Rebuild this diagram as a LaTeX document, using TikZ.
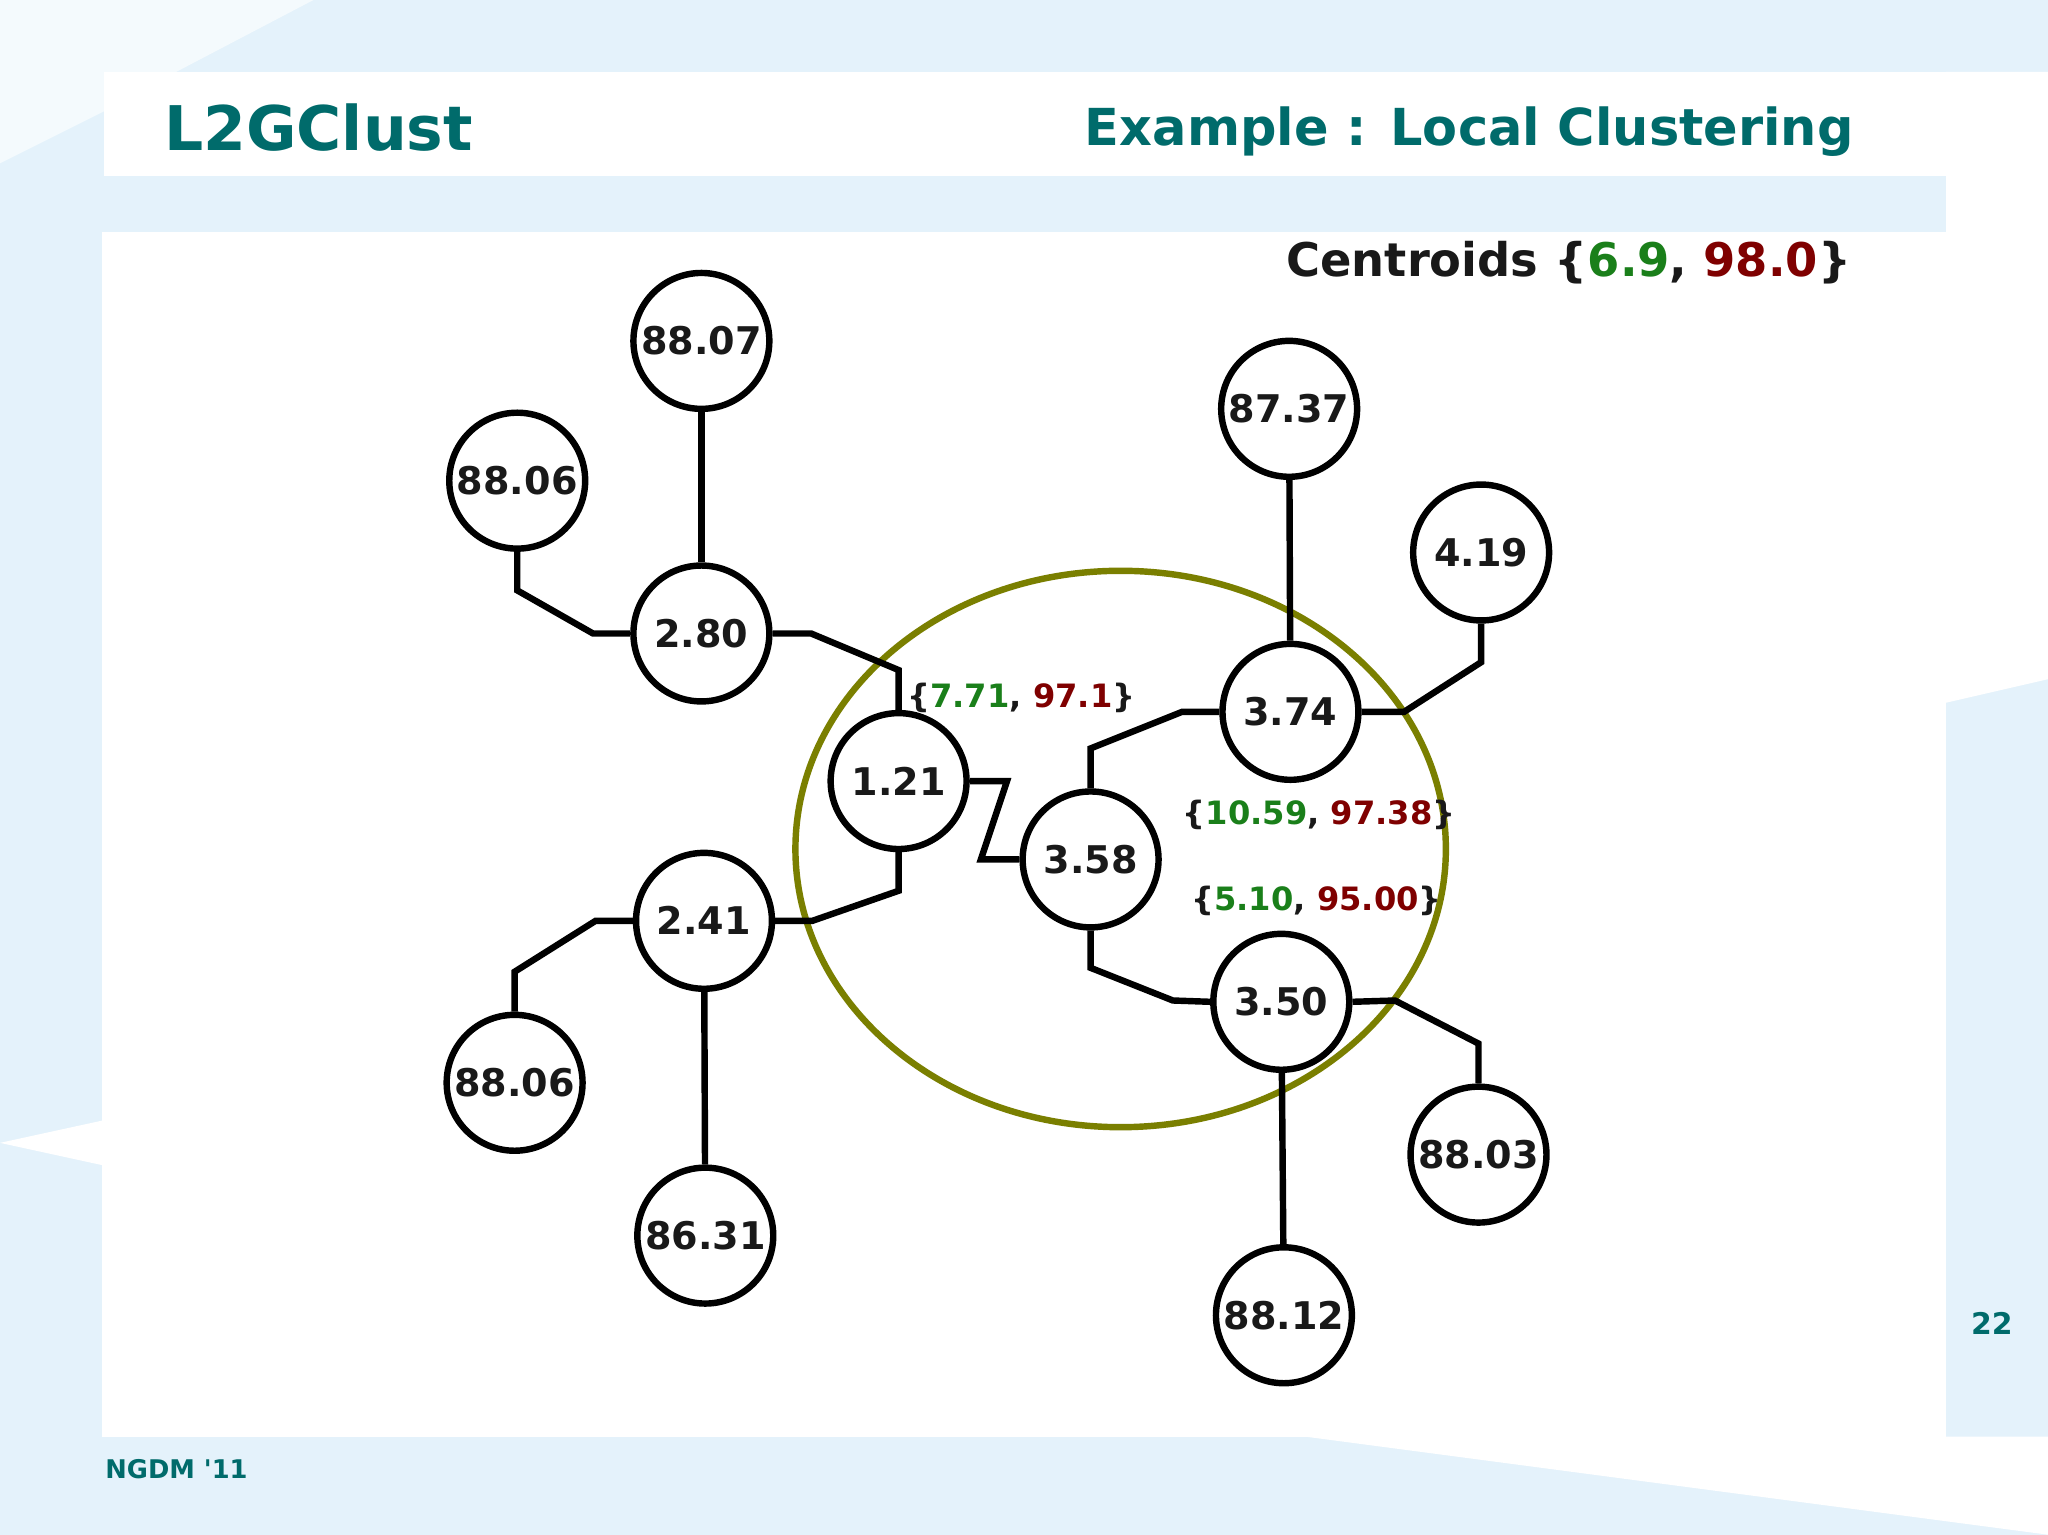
\documentclass[tikz,border=0pt]{standalone}
\usepackage{fontspec}
\setmainfont{DejaVu Sans}
\definecolor{bgb}{HTML}{E4F2FB}
\definecolor{teal2}{HTML}{006B6B}
\definecolor{grn}{HTML}{1A7F1A}
\definecolor{dred}{HTML}{7F0000}
\definecolor{olive2}{HTML}{7A7F00}
\begin{document}
\begin{tikzpicture}[x=0.01cm,y=-0.01cm,
  nd/.style={circle,draw=black,line width=1.4pt,fill=white,minimum size=1.04cm,inner sep=0pt,font=\fontsize{8.3}{9}\selectfont\bfseries,text=black!90},
  ed/.style={line width=1.4pt,black},
  lab/.style={font=\fontsize{7}{8}\selectfont\bfseries,text=black!90}]
\useasboundingbox (0,0) rectangle (1568,1175);
\fill[bgb] (0,0) rectangle (1568,1175);
\fill[white!60!bgb] (240,0) -- (135,55) -- (80,55) -- (80,85) -- (0,125) -- (0,0) -- cycle;
\fill[white] (1490,55) -- (1568,55) -- (1568,520) -- (1490,538) -- cycle;
\fill[white] (0,875) -- (78,858) -- (78,892) -- cycle;
\fill[white] (80,55) rectangle (1490,135);
\fill[white] (78,178) rectangle (1490,1100);
\fill[white] (1000,1100) -- (1568,1175) -- (1568,1100) -- cycle;
\node[font=\fontsize{13.4}{15}\selectfont\bfseries,text=teal2,anchor=west,inner sep=0pt] (t1) at (125,98) {L2GClust};
\node[font=\fontsize{11.1}{13}\selectfont\bfseries,text=teal2,anchor=east,inner sep=0pt] (t2) at (1420,101) {Example : Local Clustering};
\node[font=\fontsize{10.1}{12}\selectfont\bfseries,text=black!90,anchor=east,inner sep=0pt] (t3) at (1418,201) {Centroids \{\textcolor{grn}{6.9}, \textcolor{dred}{98.0}\}};
\node[font=\fontsize{6.5}{8}\selectfont\bfseries,text=teal2] (pg) at (1525,1013) {22};
\node[font=\fontsize{5.6}{7}\selectfont\bfseries,text=teal2,anchor=west,inner sep=0pt] (ft) at (80,1125) {NGDM \textquotesingle 11};
\draw[olive2,line width=1.4pt] (858,650) ellipse [x radius=249,y radius=213];
\node[nd] (a) at (537,261) {88.07};
\node[nd] (b) at (396,368) {88.06};
\node[nd] (c) at (537,485) {2.80};
\node[nd] (d) at (688,598) {1.21};
\node[nd] (e) at (835,658) {3.58};
\node[nd] (f) at (539,705) {2.41};
\node[nd] (g) at (394,829) {88.06};
\node[nd] (h) at (540,946) {86.31};
\node[nd] (i) at (987,313) {87.37};
\node[nd] (j) at (1134,423) {4.19};
\node[nd] (k) at (988,545) {3.74};
\node[nd] (l) at (981,767) {3.50};
\node[nd] (m) at (1132,884) {88.03};
\node[nd] (n) at (983,1007) {88.12};
\draw[ed] (a) -- (c);
\draw[ed] (b.south) -- (396,452) -- (454,485) -- (c.west);
\draw[ed] (c.east) -- (621,485) -- (688,513) -- (d.north);
\draw[ed] (d.east) -- (771,598) -- (751,658) -- (e.west);
\draw[ed] (d.south) -- (688,682) -- (622,705) -- (f.east);
\draw[ed] (f.west) -- (456,705) -- (394,744) -- (g.north);
\draw[ed] (f) -- (h);
\draw[ed] (e.north) -- (835,573) -- (905,545) -- (k.west);
\draw[ed] (e.south) -- (835,741) -- (898,766) -- (l.west);
\draw[ed] (k) -- (i);
\draw[ed] (k.east) -- (1075,545) -- (1134,507) -- (j.south);
\draw[ed] (l.east) -- (1068,766) -- (1132,799) -- (m.north);
\draw[ed] (l) -- (n);
\node[lab] (l1) at (782,534) {\{\textcolor{grn}{7.71}, \textcolor{dred}{97.1}\}};
\node[lab] (l2) at (1010,624) {\{\textcolor{grn}{10.59}, \textcolor{dred}{97.38}\}};
\node[lab] (l3) at (1008,690) {\{\textcolor{grn}{5.10}, \textcolor{dred}{95.00}\}};
\end{tikzpicture}
\end{document}
